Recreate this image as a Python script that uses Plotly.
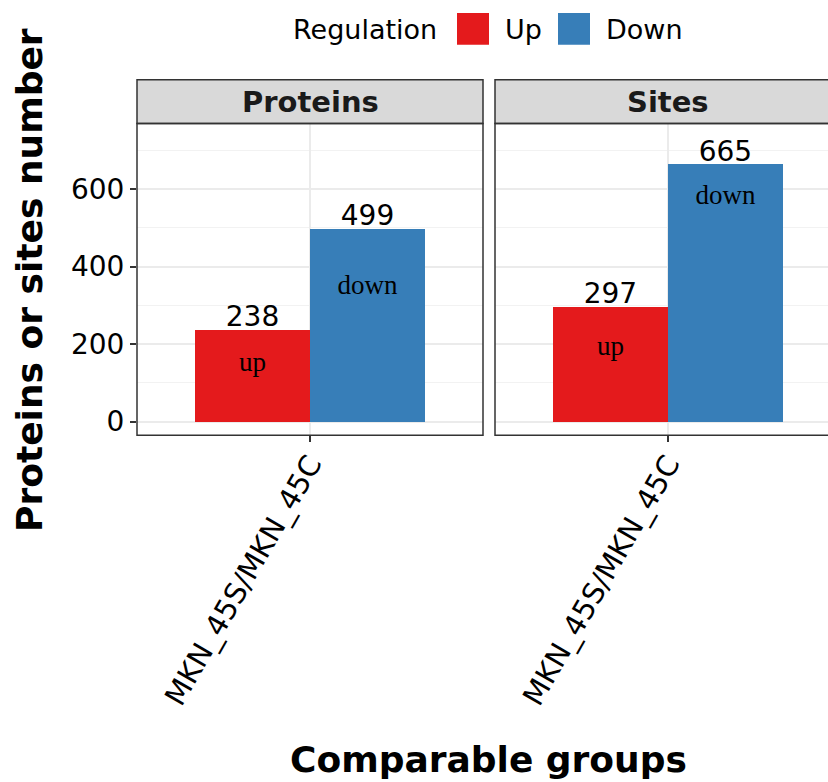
import plotly.graph_objects as go

# ---------------- data ----------------
facets = ["Proteins", "Sites"]
group_label = ["MKN_45S/MKN_45C"]
regulation = ["Up", "Down"]
up_values = [238, 297]
down_values = [499, 665]
up_text = ["up", "up"]
down_text = ["down", "down"]
up_text_y = [148, 189]
down_text_y = [348, 580]
y_ticks = [0, 200, 400, 600]
colors = {"Up": "#E41A1C", "Down": "#377EB8"}

W, H = 828, 782
def px(x):
    return x / W
def py(y):
    return 1 - y / H

FONT = "DejaVu Sans"
SERIF = "Liberation Serif"
LABEL_NUDGE = 10  # value-label nudge toward bar top (data units), like vjust

fig = go.Figure()

series = {"Up": (up_values, up_text, up_text_y), "Down": (down_values, down_text, down_text_y)}
for i, facet in enumerate(facets):
    xa = "x" if i == 0 else "x2"
    ya = "y" if i == 0 else "y2"
    for reg in regulation:
        vals, txt, ty = series[reg]
        fig.add_trace(go.Bar(
            x=group_label, y=[vals[i]], name=reg, offsetgroup=reg,
            marker=dict(color=colors[reg], line=dict(width=0)),
            showlegend=False, xaxis=xa, yaxis=ya, hoverinfo="skip"))
    for reg in regulation:
        vals, txt, ty = series[reg]
        # value labels just above bar tops
        fig.add_trace(go.Scatter(
            x=group_label, y=[vals[i] - LABEL_NUDGE], mode="text", text=[str(vals[i])],
            textposition="top center", offsetgroup=reg,
            textfont=dict(family=FONT, size=28, color="black"),
            cliponaxis=False, showlegend=False, xaxis=xa, yaxis=ya, hoverinfo="skip"))
        # "up"/"down" labels inside bars
        fig.add_trace(go.Scatter(
            x=group_label, y=[ty[i]], mode="text", text=[txt[i]],
            offsetgroup=reg,
            textfont=dict(family=SERIF, size=27, color="black"),
            showlegend=False, xaxis=xa, yaxis=ya, hoverinfo="skip"))

yrange = [-35.2, 769.4]
ydom = [py(437), py(124)]
common_x = dict(
    type="category", showgrid=True, gridcolor="#EBEBEB", gridwidth=2,
    ticks="outside", ticklen=6, tickwidth=1.5, tickcolor="#333333",
    tickangle=-60, tickfont=dict(family=FONT, size=29, color="black"),
    ticklabelstandoff=-7,
    showline=False, zeroline=False, fixedrange=True)
common_y = dict(
    range=yrange, domain=ydom, tickvals=y_ticks, showgrid=True,
    gridcolor="#EBEBEB", gridwidth=2, zeroline=False, showline=False,
    minor=dict(dtick=100, tick0=0, showgrid=True, gridcolor="#F2F2F2", gridwidth=1.2, ticks=""),
    fixedrange=True)

fig.update_layout(
    xaxis=dict(common_x, domain=[px(137), px(483)], range=[-0.752, 0.752], anchor="y"),
    xaxis2=dict(common_x, domain=[px(495), 1.0], range=[-0.752, -0.752 + (828 - 495) / 230], anchor="y2"),
    yaxis=dict(common_y, anchor="x", ticks="outside", ticklen=6, tickwidth=1.5,
               tickcolor="#333333", tickfont=dict(family=FONT, size=28, color="black")),
    yaxis2=dict(common_y, anchor="x2", showticklabels=False, ticks=""),
    barmode="group", bargap=0, bargroupgap=0,
    scattermode="group", scattergap=0,
    width=W, height=H, autosize=False,
    margin=dict(l=0, r=0, t=0, b=0),
    paper_bgcolor="white", plot_bgcolor="white",
    font=dict(family=FONT, color="black"),
    showlegend=False,
)

shapes = []
panels = [(137, 483, 310), (495, 841, 668)]
for (x0, x1, xc) in panels:
    # strip
    shapes.append(dict(type="rect", xref="paper", yref="paper", x0=px(x0), x1=px(x1),
                       y0=py(124), y1=py(80), fillcolor="#D9D9D9",
                       line=dict(color="#333333", width=1.5), layer="above"))
    # panel border
    shapes.append(dict(type="rect", xref="paper", yref="paper", x0=px(x0), x1=px(x1),
                       y0=py(437), y1=py(124), fillcolor="rgba(0,0,0,0)",
                       line=dict(color="#333333", width=1.5), layer="above"))

annotations = []
for (x0, x1, xc), facet in zip(panels, facets):
    annotations.append(dict(text="<b>%s</b>" % facet, xref="paper", yref="paper",
                            x=px(xc), y=py(102), xanchor="center", yanchor="middle",
                            showarrow=False, font=dict(family=FONT, size=29, color="#1A1A1A")))

# legend (manual, large keys)
annotations.append(dict(text="Regulation", xref="paper", yref="paper", x=px(291), y=py(30),
                        xanchor="left", yanchor="middle", showarrow=False,
                        font=dict(family=FONT, size=27, color="black")))
legend_items = [("Up", 457, 503), ("Down", 558, 604)]
for reg, kx, tx in legend_items:
    shapes.append(dict(type="rect", xref="paper", yref="paper", x0=px(kx), x1=px(kx + 32),
                       y0=py(45), y1=py(13), fillcolor=colors[reg], line=dict(width=0)))
    annotations.append(dict(text=reg, xref="paper", yref="paper", x=px(tx), y=py(30),
                            xanchor="left", yanchor="middle", showarrow=False,
                            font=dict(family=FONT, size=27, color="black")))

# axis titles
annotations.append(dict(text="<b>Comparable groups</b>", xref="paper", yref="paper",
                        x=px(489), y=py(762), xanchor="center", yanchor="middle",
                        showarrow=False, font=dict(family=FONT, size=36, color="black")))
annotations.append(dict(text="<b>Proteins or sites number</b>", xref="paper", yref="paper",
                        x=px(30), y=py(281), xanchor="center", yanchor="middle", textangle=-90,
                        showarrow=False, font=dict(family=FONT, size=36, color="black")))

fig.update_layout(shapes=shapes, annotations=annotations)
fig.write_html("out.html", config={"displayModeBar": False},
               post_script="document.body.style.margin='0px';document.body.style.overflow='hidden';")
